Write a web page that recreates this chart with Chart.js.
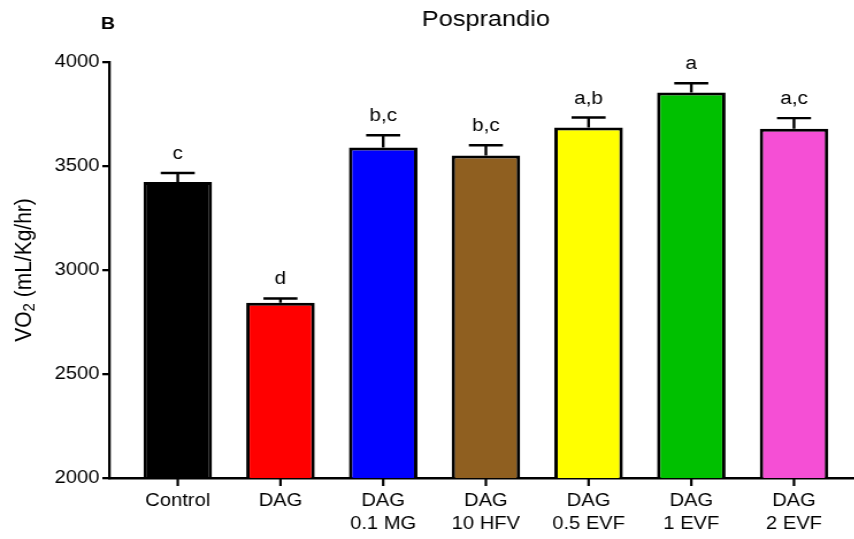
<!DOCTYPE html>
<html>
<head>
<meta charset="utf-8">
<title>Posprandio</title>
<script src="https://cdn.jsdelivr.net/npm/chart.js@4.4.0/dist/chart.umd.min.js"></script>
<style>
    html, body { margin: 0; padding: 0; background: #fff; overflow: hidden; }
    /* the figure is drawn a little wider than tall, so stretch the canvas sideways */
    #wrap {
        position: relative;
        width: 757px;
        height: 539px;
        transform: scaleX(1.15);
        transform-origin: 0 0;
    }
</style>
</head>
<body>
<div id="wrap"><canvas id="vo2Chart"></canvas></div>
<script>
// groups on the x axis (second line = dose)
const categories = [
    ['Control'],
    ['DAG'],
    ['DAG', '0.1 MG'],
    ['DAG', '10 HFV'],
    ['DAG', '0.5 EVF'],
    ['DAG', '1 EVF'],
    ['DAG', '2 EVF']
];

// mean VO2 and SEM for each group
const means = [3423, 2843, 3589, 3551, 3685, 3853, 3679];
const sem = [43, 20, 59, 49, 48, 45, 51];

// significance letters shown above each bar
const letters = ['c', 'd', 'b,c', 'b,c', 'a,b', 'a', 'a,c'];

const barColors = ['#000000', '#ff0000', '#0000ff', '#8f5f20', '#ffff00', '#00c000', '#f54fd5'];

const yTicks = [2000, 2500, 3000, 3500, 4000];

const FONT = '"Liberation Sans", Arial, Helvetica, sans-serif';

// upper error bars + letters
const errorBars = {
    id: 'errorBars',
    afterDatasetsDraw(chart) {
        const ctx = chart.ctx;
        const xs = chart.scales.x;
        const ys = chart.scales.y;
        ctx.save();
        ctx.strokeStyle = '#000';
        ctx.fillStyle = '#000';
        ctx.lineWidth = 2.4;
        ctx.font = '18px ' + FONT;
        ctx.textAlign = 'center';
        ctx.textBaseline = 'alphabetic';
        means.forEach((m, i) => {
            const x = xs.getPixelForValue(i);
            const yBar = ys.getPixelForValue(m);
            const yTop = ys.getPixelForValue(m + sem[i]);
            ctx.beginPath();
            ctx.moveTo(x, yBar);
            ctx.lineTo(x, yTop);
            ctx.moveTo(x - 14.8, yTop);
            ctx.lineTo(x + 14.8, yTop);
            ctx.stroke();
            ctx.fillText(letters[i], x, yTop - 14);
        });
        ctx.restore();
    }
};

// x tick marks, panel letter, title and the y axis title with subscript
const decorations = {
    id: 'decorations',
    afterDraw(chart) {
        const ctx = chart.ctx;
        const area = chart.chartArea;
        const xs = chart.scales.x;
        ctx.save();

        ctx.strokeStyle = '#000';
        ctx.lineWidth = 2.2;
        ctx.beginPath();
        categories.forEach((c, i) => {
            const x = xs.getPixelForValue(i);
            ctx.moveTo(x, area.bottom);
            ctx.lineTo(x, area.bottom + 8);
        });
        ctx.stroke();

        ctx.fillStyle = '#000';
        ctx.textBaseline = 'middle';
        ctx.textAlign = 'center';

        ctx.font = 'bold 17px ' + FONT;
        ctx.fillText('B', 94, 24);

        ctx.font = '22px ' + FONT;
        ctx.fillText('Posprandio', (area.left + area.right) / 2, 20);

        // rotated y title: VO2 (mL/Kg/hr)
        const big = '21px ' + FONT;
        const small = '15px ' + FONT;
        ctx.translate(21, (area.top + area.bottom) / 2);
        ctx.rotate(-Math.PI / 2);
        ctx.textAlign = 'left';
        ctx.font = big;
        const w1 = ctx.measureText('VO').width;
        const w3 = ctx.measureText(' (mL/Kg/hr)').width;
        ctx.font = small;
        const w2 = ctx.measureText('2').width;
        const x0 = -(w1 + w2 + w3) / 2;
        ctx.font = big;
        ctx.fillText('VO', x0, 0);
        ctx.font = small;
        ctx.fillText('2', x0 + w1, 5);
        ctx.font = big;
        ctx.fillText(' (mL/Kg/hr)', x0 + w1 + w2, 0);
        ctx.restore();
    }
};

new Chart(document.getElementById('vo2Chart'), {
    type: 'bar',
    data: {
        datasets: [{
            data: means.map((m, i) => ({ x: i, y: m })),
            backgroundColor: barColors,
            borderColor: '#000',
            borderWidth: 3,
            borderSkipped: false,
            categoryPercentage: 1,
            barPercentage: 0.667
        }]
    },
    options: {
        responsive: true,
        maintainAspectRatio: false,
        animation: false,
        layout: { padding: { top: 62, right: 7, bottom: 0, left: 0 } },
        plugins: {
            legend: { display: false },
            title: { display: false },
            tooltip: { enabled: false }
        },
        scales: {
            x: {
                type: 'linear',
                offset: false,
                min: -0.667,
                max: 6.667,
                afterBuildTicks(scale) {
                    scale.ticks = categories.map((c, i) => ({ value: i }));
                },
                afterFit(scale) { scale.height = 61; },
                border: { display: true, color: '#000', width: 2.5 },
                grid: { display: false, tickLength: 8 },
                ticks: {
                    autoSkip: false,
                    maxRotation: 0,
                    padding: 4,
                    color: '#000',
                    font: { family: FONT, size: 17.5, lineHeight: 1.3 },
                    callback: (v) => categories[v]
                }
            },
            y: {
                min: 2000,
                max: 4000,
                afterBuildTicks(scale) {
                    scale.ticks = yTicks.map(v => ({ value: v }));
                },
                afterFit(scale) { scale.width = 95; },
                border: { display: true, color: '#000', width: 2.3 },
                grid: {
                    drawOnChartArea: false,
                    drawTicks: true,
                    tickLength: 6,
                    color: '#000',
                    lineWidth: 2.3
                },
                ticks: {
                    padding: 2.5,
                    color: '#000',
                    font: { family: FONT, size: 17.5 },
                    callback: (v) => String(v)
                }
            }
        }
    },
    plugins: [errorBars, decorations]
});
</script>
</body>
</html>
